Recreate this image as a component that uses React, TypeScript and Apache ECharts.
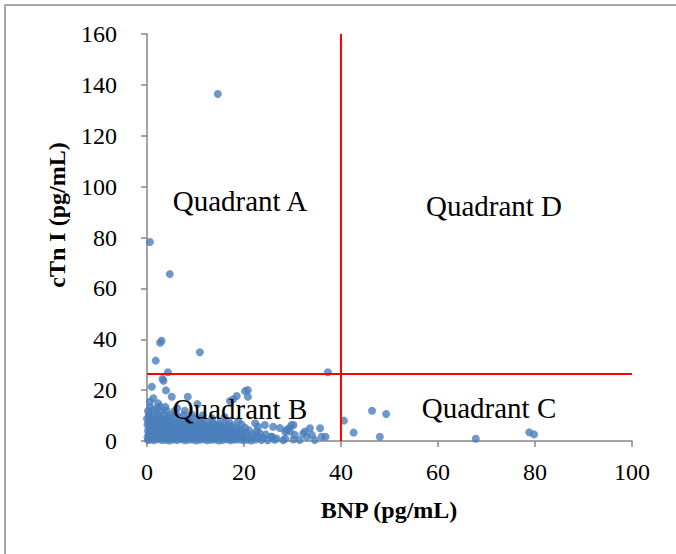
import React, { useEffect, useRef } from "react";
import * as echarts from "echarts";

// BNP (pg/mL) vs cTn I (pg/mL), [bnp, ctnI]
const outlierPoints: number[][] = [
  [14.6, 136.4], [0.6, 78.2], [4.7, 65.6], [3.0, 39.4], [2.7, 38.6],
  [10.9, 34.9], [1.8, 31.6], [4.3, 27.0], [37.3, 27.0], [3.2, 24.4],
  [3.4, 23.7], [1.0, 21.3], [3.9, 19.9], [5.1, 17.4], [8.4, 17.4],
  [1.3, 16.8], [0.6, 15.4], [10.4, 14.5], [20.8, 20.0], [20.8, 17.4],
  [18.5, 17.7], [17.8, 16.4], [17.1, 15.7], [2.3, 14.8], [2.7, 13.5],
  [20.2, 19.6], [16.0, 9.4], [22.3, 7.0],
];

const quadrantCPoints: number[][] = [
  [40.6, 8.0], [46.4, 11.9], [49.3, 10.6], [42.6, 3.3], [48.0, 1.7],
  [67.8, 0.9], [78.8, 3.4], [79.8, 2.6],
];

const clusterPoints: number[][] = [
  // lowest band
  [0.2, 0.4], [0.8, 0.6], [1.5, 0.3], [2.3, 0.7], [3.1, 0.4], [3.9, 0.5], [4.6, 0.2], [5.4, 0.6],
  [6.2, 0.4], [7.0, 0.7], [7.8, 0.3], [8.5, 0.5], [9.3, 0.6], [10.1, 0.2], [10.9, 0.5], [11.7, 0.7],
  [12.4, 0.3], [13.2, 0.5], [14.0, 0.6], [14.8, 0.2], [15.6, 0.4], [16.4, 0.7], [17.2, 0.3], [18.0, 0.5],
  [18.9, 0.6], [19.8, 0.3], [20.6, 0.5], [21.5, 0.2], [22.4, 0.6], [23.6, 0.4], [24.9, 0.3], [26.3, 0.5],
  [28.1, 0.3], [30.2, 0.6], [31.5, 0.4], [34.6, 0.4],
  // second band
  [0.1, 1.6], [0.9, 1.8], [1.8, 1.4], [2.6, 1.7], [3.4, 1.5], [4.3, 1.9], [5.1, 1.6], [5.9, 1.3],
  [6.8, 1.7], [7.6, 1.5], [8.4, 1.8], [9.2, 1.4], [10.0, 1.7], [10.9, 1.6], [11.8, 1.9], [12.6, 1.3],
  [13.5, 1.6], [14.3, 1.8], [15.1, 1.5], [16.0, 1.7], [16.9, 1.4], [17.8, 1.8], [18.6, 1.6], [19.5, 1.3],
  [20.4, 1.7], [21.6, 1.5], [22.8, 1.8], [24.0, 1.4], [25.7, 1.7], [26.7, 1.0], [28.5, 1.0], [30.5, 2.4],
  [33.0, 1.6], [36.8, 1.7], [34.0, 2.4], [36.0, 1.7],
  // third band
  [0.4, 2.8], [1.2, 3.0], [2.0, 2.6], [2.9, 2.9], [3.7, 3.1], [4.5, 2.7], [5.4, 2.9], [6.3, 3.2],
  [7.1, 2.6], [7.9, 2.9], [8.8, 3.0], [9.7, 2.7], [10.5, 3.1], [11.4, 2.8], [12.3, 2.6], [13.1, 3.0],
  [14.0, 2.9], [14.9, 3.2], [15.8, 2.7], [16.7, 2.9], [17.6, 3.1], [18.5, 2.6], [19.4, 2.9], [20.5, 3.2],
  [21.9, 2.7], [23.3, 3.0], [24.5, 2.6], [29.5, 3.7], [32.2, 3.0], [25.7, 1.7],
  // fourth band
  [0.2, 4.0], [1.0, 4.2], [1.9, 3.9], [2.7, 4.3], [3.6, 4.0], [4.4, 3.8], [5.3, 4.2], [6.1, 4.1],
  [7.0, 3.9], [7.9, 4.3], [8.7, 4.0], [9.6, 3.8], [10.4, 4.2], [11.3, 4.1], [12.2, 3.9], [13.0, 4.3],
  [13.9, 4.0], [14.8, 3.8], [15.7, 4.2], [16.6, 4.0], [17.5, 3.9], [18.3, 4.3], [19.3, 4.0], [21.0, 4.2],
  [22.6, 3.8], [28.8, 4.3], [32.6, 3.7], [28.5, 3.7],
  // fifth band
  [0.5, 5.2], [1.3, 5.4], [2.2, 5.0], [3.0, 5.3], [3.9, 5.1], [4.8, 5.5], [5.6, 5.2], [6.5, 4.9],
  [7.3, 5.3], [8.2, 5.1], [9.1, 5.4], [9.9, 5.0], [10.8, 5.3], [11.7, 5.2], [12.6, 4.9], [13.5, 5.4],
  [14.4, 5.1], [15.4, 5.3], [16.3, 5.0], [17.4, 5.4], [18.6, 5.1], [20.2, 5.2], [22.9, 5.6], [26.0, 5.6],
  [27.4, 5.1], [33.6, 5.0], [35.7, 5.0], [29.3, 5.0],
  // sixth band
  [0.1, 6.4], [0.9, 6.6], [1.7, 6.2], [2.6, 6.5], [3.4, 6.3], [4.3, 6.7], [5.2, 6.4], [6.1, 6.2],
  [7.0, 6.6], [7.9, 6.3], [8.8, 6.5], [9.7, 6.2], [10.7, 6.6], [11.6, 6.4], [12.6, 6.2], [13.7, 6.5],
  [14.9, 6.3], [16.2, 6.6], [17.7, 6.2], [19.5, 6.5], [24.3, 6.3], [29.8, 6.3], [30.2, 6.3],
  // seventh band
  [0.3, 7.6], [1.1, 7.9], [2.0, 7.4], [2.9, 7.8], [3.8, 7.5], [4.7, 7.7], [5.7, 7.4], [6.6, 7.9],
  [7.6, 7.5], [8.7, 7.7], [9.8, 7.4], [11.0, 7.8], [12.3, 7.6], [13.6, 7.3], [15.1, 7.7], [16.9, 7.5],
  [18.8, 7.8],
  // eighth band
  [0.0, 8.8], [0.8, 9.1], [1.7, 8.7], [2.6, 9.0], [3.5, 8.6], [4.5, 9.2], [5.6, 8.8], [6.8, 9.0],
  [8.1, 8.6], [9.5, 9.1], [11.2, 8.8], [13.4, 8.9],
  // upper sparse
  [0.4, 10.2], [1.4, 10.5], [2.4, 10.0], [3.5, 10.4], [4.7, 10.1], [6.0, 10.6], [7.6, 10.2], [9.2, 10.4],
  [11.5, 10.1], [0.2, 11.8], [1.3, 12.1], [2.6, 11.6], [4.0, 12.0], [5.6, 11.7], [7.8, 11.9],
  [0.7, 13.3], [2.1, 13.0], [3.8, 13.4], [6.2, 12.9],
];

const xTicks = { min: 0, max: 100, interval: 20 };
const yTicks = { min: 0, max: 160, interval: 20 };
const bnpCutoff = 40;
const ctnCutoff = 26.5;

const quadrantLabels = [
  { text: "Quadrant A", x: 240, y: 201 },
  { text: "Quadrant D", x: 494, y: 206 },
  { text: "Quadrant B", x: 240, y: 409 },
  { text: "Quadrant C", x: 489, y: 408 },
];

const SERIF = "'Liberation Serif', 'Times New Roman', serif";
const AXIS_GREY = "#868686";

export default function App() {
  const ref = useRef<HTMLDivElement>(null);

  useEffect(() => {
    if (!ref.current) return;
    const chart = echarts.init(ref.current, null, { renderer: "svg" });
    const allPoints = [...clusterPoints, ...outlierPoints, ...quadrantCPoints];
    chart.setOption({
      animation: false,
      backgroundColor: "#ffffff",
      grid: { left: 147, right: 44, top: 34, bottom: 113, containLabel: false },
      xAxis: {
        type: "value",
        min: xTicks.min,
        max: xTicks.max,
        interval: xTicks.interval,
        axisLine: { show: true, lineStyle: { color: AXIS_GREY, width: 1.5 } },
        axisTick: { show: true, length: 6, lineStyle: { color: AXIS_GREY, width: 1.5 } },
        splitLine: { show: false },
        axisLabel: { color: "#000", fontFamily: SERIF, fontSize: 24, margin: 19 },
      },
      yAxis: {
        type: "value",
        min: yTicks.min,
        max: yTicks.max,
        interval: yTicks.interval,
        axisLine: { show: true, lineStyle: { color: AXIS_GREY, width: 1.5 } },
        axisTick: { show: true, length: 6, lineStyle: { color: AXIS_GREY, width: 1.5 } },
        splitLine: { show: false },
        axisLabel: { color: "#000", fontFamily: SERIF, fontSize: 24, margin: 30 },
      },
      series: [
        {
          type: "scatter",
          data: allPoints,
          symbol: "circle",
          symbolSize: 8,
          itemStyle: { color: "#4A7EBB" },
          markLine: {
            silent: true,
            symbol: "none",
            label: { show: false },
            lineStyle: { color: "#FF0000", width: 2, type: "solid" },
            data: [{ xAxis: bnpCutoff }, { yAxis: ctnCutoff }],
          },
        },
      ],
      graphic: [
        {
          type: "rect",
          shape: { x: 5, y: 5, width: 800, height: 700 },
          style: { fill: "none", stroke: "#8c8c8c", lineWidth: 1.5 },
          z: -1,
        },
        ...quadrantLabels.map((q) => ({
          type: "text",
          x: q.x,
          y: q.y,
          z: 100,
          style: {
            text: q.text,
            fontFamily: SERIF,
            fontSize: 29,
            fill: "#000",
            textAlign: "center",
            textVerticalAlign: "middle",
          },
        })),
        {
          type: "text",
          x: 389,
          y: 510,
          style: {
            text: "BNP (pg/mL)",
            fontFamily: SERIF,
            fontSize: 24,
            fontWeight: "bold",
            fill: "#000",
            textAlign: "center",
            textVerticalAlign: "middle",
          },
        },
        {
          type: "text",
          x: 57,
          y: 215,
          rotation: Math.PI / 2,
          style: {
            text: "cTn I (pg/mL)",
            fontFamily: SERIF,
            fontSize: 24,
            fontWeight: "bold",
            fill: "#000",
            textAlign: "center",
            textVerticalAlign: "middle",
          },
        },
      ],
    });
    return () => chart.dispose();
  }, []);

  return (
    <div
      ref={ref}
      style={{ position: "absolute", left: 0, top: 0, width: 676, height: 554 }}
    />
  );
}
